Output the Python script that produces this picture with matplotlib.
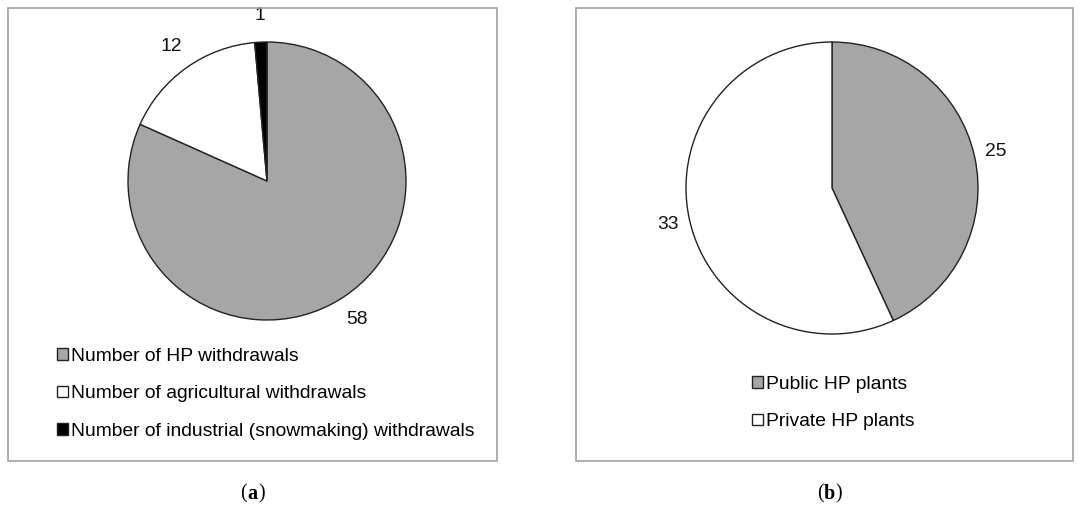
import matplotlib
matplotlib.use("Agg")
import matplotlib.pyplot as plt
from matplotlib.patches import Rectangle

plt.rcParams['font.family'] = ['Liberation Sans', 'DejaVu Sans']

# Data
labels_a = ["Number of HP withdrawals", "Number of agricultural withdrawals",
            "Number of industrial (snowmaking) withdrawals"]
values_a = [58, 12, 1]
colors_a = ["#a6a6a6", "#ffffff", "#000000"]

labels_b = ["Public HP plants", "Private HP plants"]
values_b = [25, 33]
colors_b = ["#a6a6a6", "#ffffff"]

W, H = 1081, 509
fig = plt.figure(figsize=(W / 100, H / 100), dpi=100)

def px_rect(x0, y0, w, h):
    return [x0 / W, (H - y0 - h) / H, w / W, h / H]

# Panel frames
for (x0, y0, x1, y1) in [(8, 8, 497, 461), (576, 8, 1073, 461)]:
    fig.patches.append(Rectangle((x0 / W, 1 - y1 / H), (x1 - x0) / W, (y1 - y0) / H,
                                 transform=fig.transFigure, fill=False,
                                 edgecolor="#a0a0a0", linewidth=1.2))

FS = 13.9

def make_pie(cx, cy, r, values, colors, labeldist, names, leg_x, leg_y):
    ax = fig.add_axes(px_rect(cx - r, cy - r, 2 * r, 2 * r))
    wedges, texts = ax.pie(values, colors=colors, startangle=90, counterclock=False,
                           labels=[str(v) for v in values], labeldistance=labeldist,
                           wedgeprops=dict(edgecolor="#222222", linewidth=1.0),
                           textprops=dict(fontsize=FS, color="#111111"))
    for t in texts:
        t.set_ha("center")
        t.set_va("center")
    ax.set_xlim(-1, 1)
    ax.set_ylim(-1, 1)
    ax.set_aspect("equal")
    ax.axis("off")
    leg = fig.legend(wedges, names, loc="upper left",
                     bbox_to_anchor=(leg_x / W, 1 - leg_y / H),
                     frameon=False, fontsize=FS, handlelength=0.55, handleheight=0.55,
                     handletextpad=0.2, labelspacing=1.05, borderpad=0, borderaxespad=0)
    for h in leg.legend_handles:
        h.set_edgecolor("#222222")
        h.set_linewidth(1.0)
    return ax

make_pie(267, 181, 139, values_a, colors_a, 1.19, labels_a, 57, 348)
make_pie(832, 188, 146, values_b, colors_b, 1.15, labels_b, 752, 376)

# Captions
for cx, letter in [(252, "a"), (829, "b")]:
    y = 1 - 494 / H
    fig.text(cx / W, y, letter, ha="center", va="center", fontsize=14.5,
             fontweight="bold", family="Liberation Serif")
    fig.text((cx - 5.5) / W, y, "(", ha="right", va="center", fontsize=14.5,
             family="Liberation Serif")
    fig.text((cx + 6) / W, y, ")", ha="left", va="center", fontsize=14.5,
             family="Liberation Serif")

fig.savefig("out.png", dpi=100, facecolor="white")
